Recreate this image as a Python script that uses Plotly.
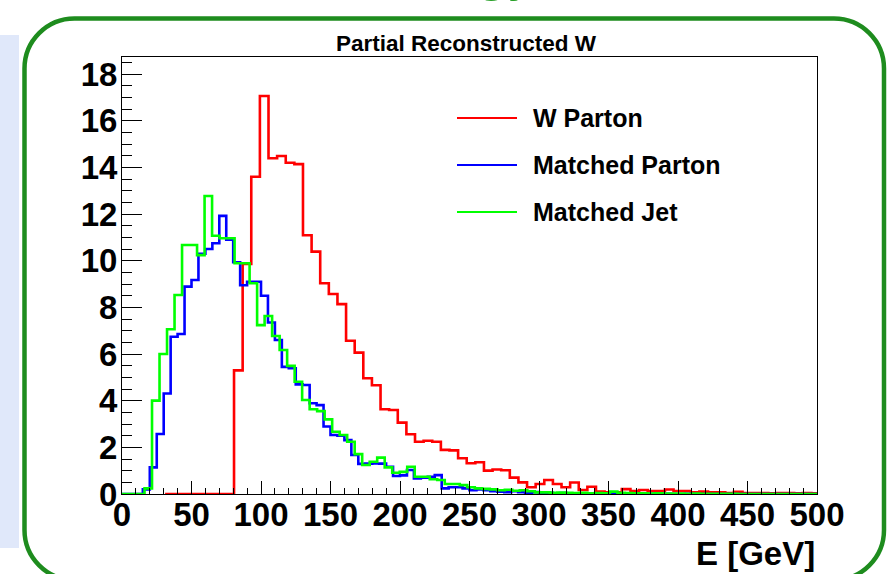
import plotly.graph_objects as go

# ---------------- data ----------------
series_names = ["W Parton", "Matched Parton", "Matched Jet"]
series_colors = ["#ff0000", "#0000ff", "#00ff00"]

# W Parton: bins of 6.2 GeV starting at 31 GeV
red_start, red_width = 31.0, 6.2
red_values = [0, 0, 0, 0, 0, 0, 0, 0,
              5.3, 9.86, 13.6, 17.06, 14.39, 14.49, 14.2, 14.14, 11.09, 10.39,
              9.03, 8.57, 8.14, 6.57, 6.06, 4.96, 4.66, 3.63, 3.6, 3.06,
              2.56, 2.24, 2.28, 2.24, 1.89, 1.87, 1.53, 1.32, 1.36, 1.0,
              1.05, 1.02, 0.7, 0.5, 0.29, 0.43, 0.6, 0.43, 0.29, 0.49,
              0.17, 0.31, 0.1, 0.07, 0.07, 0.21, 0.13, 0.17, 0.13, 0.13,
              0.19, 0.13, 0.13, 0.07, 0.1, 0.07, 0.07, 0.04, 0.09, 0.04,
              0.04, 0.04, 0.03, 0.04, 0.04, 0.03, 0.04, 0.03]

# Matched Parton: bins of 5 GeV starting at 0
blue_start, blue_width = 0.0, 5.0
blue_values = [0, 0, 0, 0.2, 1.14, 2.57, 4.31, 6.74, 6.86, 8.89,
               9.17, 10.3, 10.5, 10.75, 11.92, 10.9, 9.93, 8.95, 9.1, 9.1,
               8.5, 7.35, 6.6, 5.45, 5.39, 4.7, 4.67, 3.89, 3.81, 2.89,
               2.53, 2.5, 2.31, 1.67, 1.29, 1.3, 1.31, 1.3, 1.17, 0.77,
               0.8, 1.03, 0.67, 0.7, 0.74, 0.81, 0.24, 0.29, 0.29, 0.24,
               0.16, 0.2, 0.16, 0.12, 0.1, 0.08, 0.12, 0.08, 0.05, 0.08,
               0.04, 0.05, 0.03, 0.04, 0.02, 0.03, 0.02, 0.02, 0.03, 0.02,
               0.01, 0.02, 0.01, 0.01, 0.02, 0.01, 0.01, 0, 0.01, 0,
               0, 0.01, 0, 0, 0, 0, 0, 0, 0, 0,
               0, 0, 0, 0, 0, 0, 0, 0, 0, 0]

# Matched Jet: bins of 5.4 GeV starting at 0
green_start, green_width = 0.0, 5.4
green_values = [0, 0, 0, 0.24, 4.0, 6.0, 7.06, 8.53, 10.67, 10.67,
                10.24, 12.77, 11.07, 10.96, 10.96, 9.89, 9.89, 9.03, 7.24, 7.63,
                6.77, 6.17, 5.49, 4.81, 4.03, 3.63, 3.55, 3.2, 2.67, 2.53,
                2.24, 1.71, 1.24, 1.38, 1.56, 1.14, 0.91, 0.95, 1.17, 0.74,
                0.74, 0.63, 0.6, 0.43, 0.43, 0.38, 0.29, 0.24, 0.22, 0.2,
                0.16, 0.18, 0.14, 0.16, 0.12, 0.07, 0.07, 0.05, 0.06, 0.05,
                0.04, 0.05, 0.03, 0.04, 0.03, 0.1, 0.05, 0.04, 0.03, 0.03,
                0.02, 0.03, 0.02, 0.02, 0.02, 0.01, 0.02, 0.01, 0.01, 0.01,
                0.01, 0.01, 0, 0, 0, 0, 0, 0, 0, 0,
                0, 0, 0, 0]

x_tick_vals = [0, 50, 100, 150, 200, 250, 300, 350, 400, 450, 500]
y_tick_vals = [0, 2, 4, 6, 8, 10, 12, 14, 16, 18]
title_text = "Partial Reconstructed W"
x_title = "E [GeV]"

# ---------------- layout geometry (pixels) ----------------
W, H = 889, 574
L_PX, R_PX, T_PX, B_PX = 122, 817, 57, 494
Y_MAX = 18.73


def px_x(p):
    return (p - L_PX) / (R_PX - L_PX)


def px_y(p):
    return (B_PX - p) / (B_PX - T_PX)


def step_xy(start, width, vals):
    xs = [start + width * i for i in range(len(vals) + 1)]
    ys = list(vals) + [vals[-1]]
    return xs, ys


fig = go.Figure()
for (start, width, vals), name, color in zip(
        [(red_start, red_width, red_values),
         (blue_start, blue_width, blue_values),
         (green_start, green_width, green_values)],
        series_names, series_colors):
    xs, ys = step_xy(start, width, vals)
    fig.add_trace(go.Scatter(x=xs, y=ys, mode="lines", name=name,
                             line=dict(color=color, width=2.6, shape="hv"),
                             showlegend=False, hoverinfo="skip"))

tick_font = dict(family="Liberation Sans", size=33, color="black", weight="bold")

fig.update_layout(
    width=W, height=H,
    margin=dict(l=L_PX, r=W - R_PX, t=T_PX, b=H - B_PX, pad=0),
    paper_bgcolor="white", plot_bgcolor="white",
    showlegend=False,
    xaxis=dict(range=[0, 500], tickvals=x_tick_vals, ticks="inside", ticklen=13,
               tickwidth=1, tickcolor="black", showline=True, mirror=True,
               linecolor="black", linewidth=1, showgrid=False, zeroline=False,
               tickfont=tick_font, ticklabelstandoff=-9,
               minor=dict(dtick=10, ticks="inside", ticklen=6.5, tickwidth=1,
                          tickcolor="black", showgrid=False)),
    yaxis=dict(range=[0, Y_MAX], tickvals=y_tick_vals, ticks="inside", ticklen=20,
               tickwidth=1, tickcolor="black", showline=True, mirror=True,
               linecolor="black", linewidth=1, showgrid=False, zeroline=False,
               tickfont=tick_font, ticklabelstandoff=-3,
               minor=dict(dtick=0.5, ticks="inside", ticklen=10, tickwidth=1,
                          tickcolor="black", showgrid=False)),
)

shapes = []
# slide decoration: light blue band at left
shapes.append(dict(type="rect", xref="paper", yref="paper",
                   x0=px_x(0), x1=px_x(19), y0=px_y(548), y1=px_y(35),
                   fillcolor="rgb(224,232,250)", line=dict(width=0), layer="below"))

# rounded green frame
L, R, T, B, r = 24.5, 884.0, 18.5, 580.0, 50.0
k = 0.5523 * r


def P(x, y):
    return f"{px_x(x):.5f},{px_y(y):.5f}"


path = (f"M {P(L + r, T)} L {P(R - r, T)} "
        f"C {P(R - r + k, T)} {P(R, T + r - k)} {P(R, T + r)} "
        f"L {P(R, B - r)} "
        f"C {P(R, B - r + k)} {P(R - r + k, B)} {P(R - r, B)} "
        f"L {P(L + r, B)} "
        f"C {P(L + r - k, B)} {P(L, B - r + k)} {P(L, B - r)} "
        f"L {P(L, T + r)} "
        f"C {P(L, T + r - k)} {P(L + r - k, T)} {P(L + r, T)} Z")
shapes.append(dict(type="path", xref="paper", yref="paper", path=path,
                   line=dict(color="rgb(30,140,30)", width=4.5), layer="below"))

# legend lines
legend_y_px = [118, 165, 212]
for ly, color in zip(legend_y_px, series_colors):
    shapes.append(dict(type="line", xref="paper", yref="paper",
                       x0=px_x(457), x1=px_x(517), y0=px_y(ly), y1=px_y(ly),
                       line=dict(color=color, width=2)))
fig.update_layout(shapes=shapes)

annotations = []
for ly, name in zip(legend_y_px, series_names):
    annotations.append(dict(xref="paper", yref="paper", x=px_x(531), y=px_y(ly),
                            xanchor="left", yanchor="middle", text=name, showarrow=False,
                            font=dict(family="Liberation Sans", size=25, color="black",
                                      weight="bold")))
annotations.append(dict(xref="paper", yref="paper", x=px_x(466), y=px_y(43),
                        xanchor="center", yanchor="middle", text=title_text, showarrow=False,
                        font=dict(family="Liberation Sans", size=22.5, color="black",
                                  weight="bold")))
annotations.append(dict(xref="paper", yref="paper", x=1.0, y=px_y(553),
                        xanchor="right", yanchor="middle", text=x_title, showarrow=False,
                        font=dict(family="Liberation Sans", size=33, color="black",
                                  weight="bold")))
# partial slide title peeking in at the top
annotations.append(dict(xref="paper", yref="paper", x=px_x(506), y=px_y(-32),
                        xanchor="center", yanchor="middle", text="gy", showarrow=False,
                        font=dict(family="Liberation Sans", size=60,
                                  color="rgb(40,160,40)")))
fig.update_layout(annotations=annotations)

fig.write_html("out.html")
